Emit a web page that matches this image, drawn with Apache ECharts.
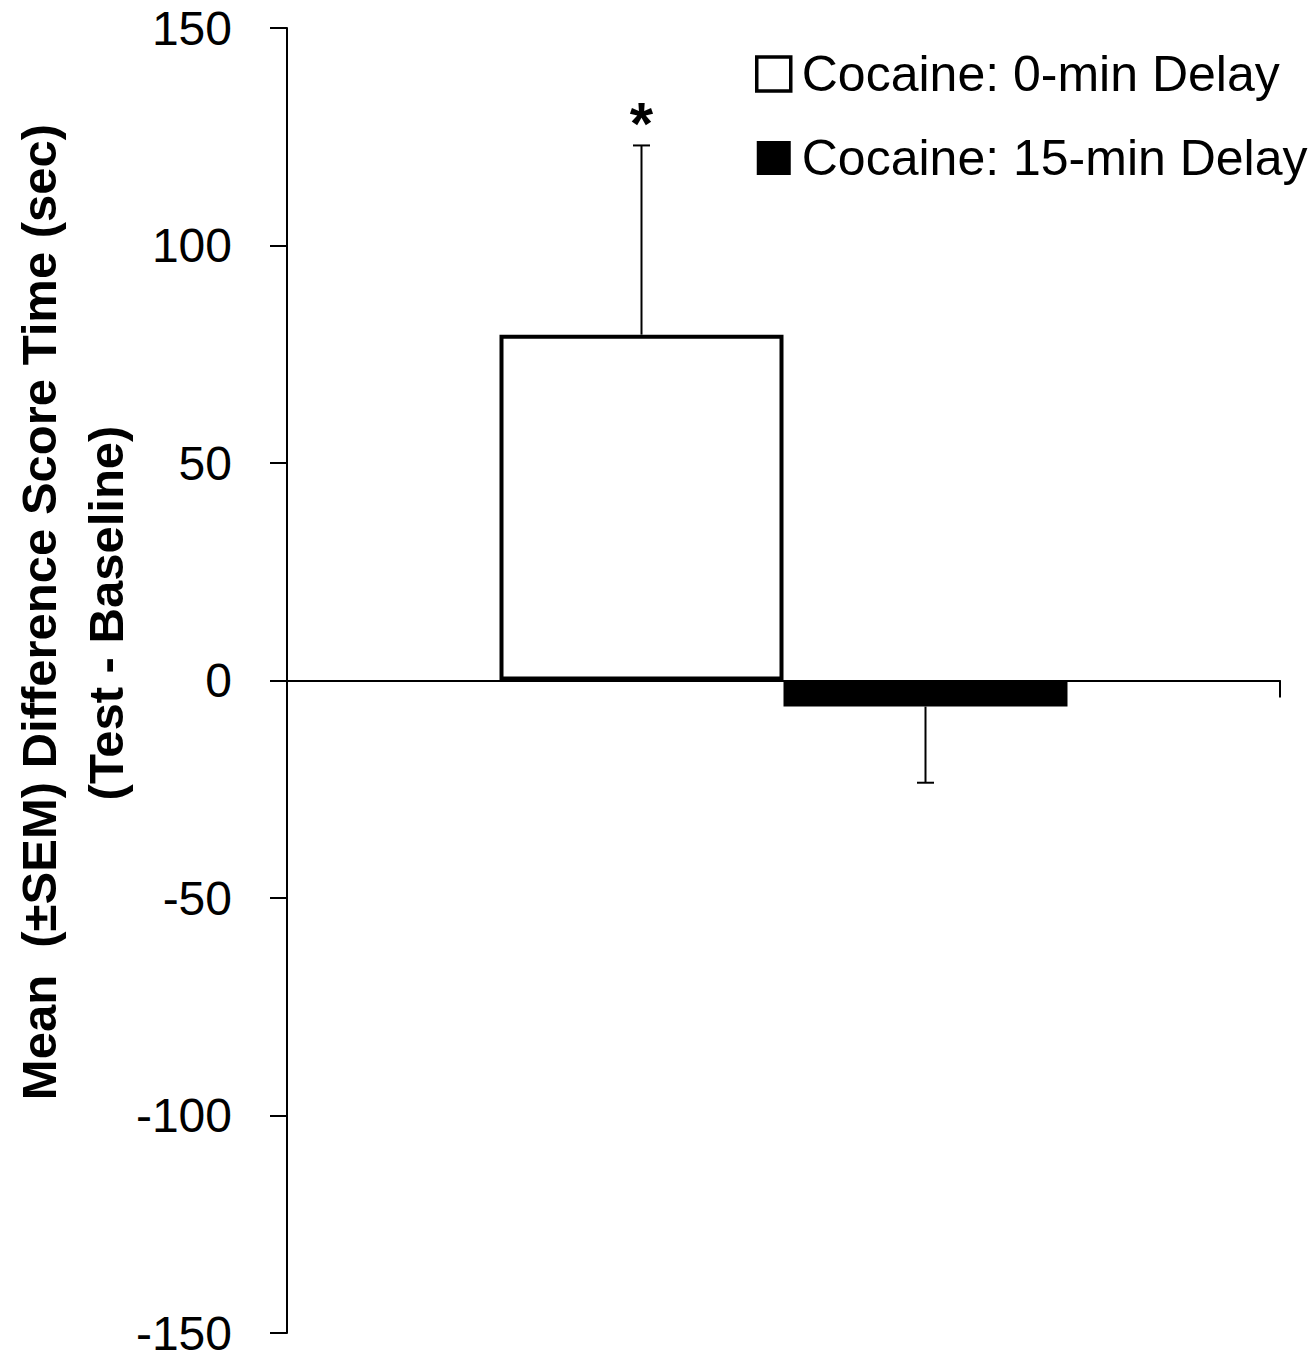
<!DOCTYPE html>
<html>
<head>
<meta charset="utf-8">
<script src="https://cdn.jsdelivr.net/npm/echarts@6/dist/echarts.min.js"></script>
<style>
html,body{margin:0;padding:0;background:#fff;}
#chart{width:1315px;height:1361px;}
</style>
</head>
<body>
<div id="chart"></div>
<script>
const categories = [''];
const seriesNames = ['Cocaine: 0-min Delay', 'Cocaine: 15-min Delay'];
const means = [79.5, -6];
const sems = [43.5, 17.5];
const sigMarks = ['*', ''];
const yMin = -150, yMax = 150, yInterval = 50;
const yNameLine1 = 'Mean  (\u00B1SEM) Difference Score Time (sec)';
const yNameLine2 = '(Test - Baseline)';

const BAR_FRAC = 0.286;
const FONT = "'Liberation Sans', Arial, sans-serif";

const chart = echarts.init(document.getElementById('chart'), null, {renderer: 'svg'});

const errData = means.map((m, i) => [0, m, sems[i], i, sigMarks[i]]);

const option = {
  animation: false,
  backgroundColor: '#fff',
  grid: {left: 287, right: 35, top: 28, bottom: 28, containLabel: false},
  legend: {
    data: [
      {name: seriesNames[0], icon: 'rect', itemStyle: {color: '#fff', borderColor: '#000', borderWidth: 3.5}},
      {name: seriesNames[1], icon: 'rect', itemStyle: {color: '#000', borderColor: '#000', borderWidth: 0}}
    ],
    orient: 'vertical',
    left: 750,
    top: 44,
    itemWidth: 34,
    itemHeight: 34,
    itemGap: 34,
    selectedMode: false,
    textStyle: {fontSize: 50, color: '#000', fontFamily: FONT, padding: [0, 0, 0, 6]}
  },
  xAxis: {
    type: 'category',
    data: categories,
    axisLine: {onZero: true, lineStyle: {color: '#000', width: 2}},
    axisTick: {show: true, length: 17, lineStyle: {color: '#000', width: 2}},
    axisLabel: {show: false},
    splitLine: {show: false}
  },
  yAxis: {
    type: 'value',
    min: yMin, max: yMax, interval: yInterval,
    axisLine: {show: true, lineStyle: {color: '#000', width: 2}},
    axisTick: {show: true, length: 17, lineStyle: {color: '#000', width: 2}},
    axisLabel: {fontSize: 48, color: '#000', fontFamily: FONT, margin: 55},
    splitLine: {show: false}
  },
  graphic: [
    {type: 'text', x: 39, y: 612, rotation: Math.PI / 2,
     style: {text: yNameLine1, font: "bold 49px " + FONT, fill: '#000', align: 'center', verticalAlign: 'middle'}},
    {type: 'text', x: 106, y: 613, rotation: Math.PI / 2,
     style: {text: yNameLine2, font: "bold 49px " + FONT, fill: '#000', align: 'center', verticalAlign: 'middle'}}
  ],
  series: [
    {
      name: seriesNames[0], type: 'bar', data: [means[0]],
      barWidth: (BAR_FRAC * 100) + '%', barGap: '0%',
      itemStyle: {color: '#fff', borderColor: '#000', borderWidth: 4}
    },
    {
      name: seriesNames[1], type: 'bar', data: [means[1]],
      barWidth: (BAR_FRAC * 100) + '%', barGap: '0%',
      itemStyle: {color: '#000', borderColor: '#000', borderWidth: 0}
    },
    {
      type: 'custom',
      data: errData,
      z: 5,
      renderItem: function (params, api) {
        const cat = api.value(0), m = api.value(1), s = api.value(2), idx = api.value(3);
        const mark = errData[params.dataIndex][4];
        const band = api.size([1, 0])[0];
        const bw = band * BAR_FRAC;
        const cx = api.coord([cat, 0])[0] + (idx === 0 ? -bw / 2 : bw / 2);
        const end = m >= 0 ? m + s : m - s;
        const y0 = api.coord([cat, m])[1];
        const y1 = api.coord([cat, end])[1];
        const st = {stroke: '#000', lineWidth: 2};
        const children = [
          {type: 'line', shape: {x1: cx, y1: y0, x2: cx, y2: y1}, style: st},
          {type: 'line', shape: {x1: cx - 8.5, y1: y1, x2: cx + 8.5, y2: y1}, style: st}
        ];
        if (mark) {
          children.push({type: 'text', x: cx, y: y1 - 22,
            style: {text: mark, font: "bold 60px " + FONT, fill: '#000', align: 'center', verticalAlign: 'middle'}});
        }
        return {type: 'group', children: children};
      }
    }
  ]
};
chart.setOption(option);
</script>
</body>
</html>
